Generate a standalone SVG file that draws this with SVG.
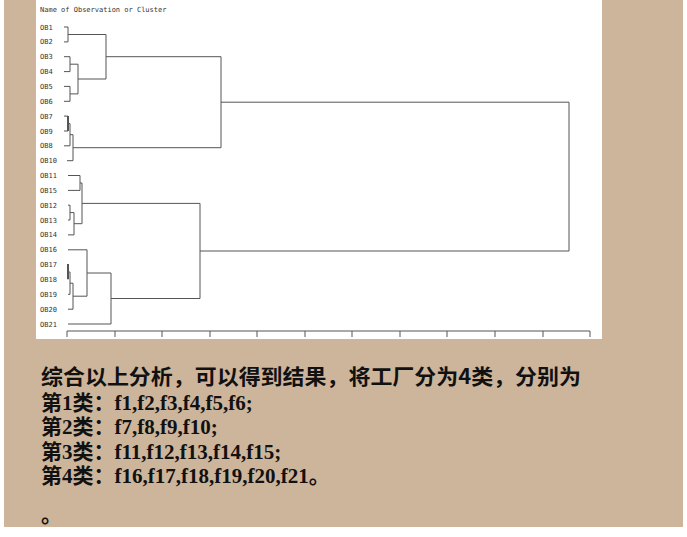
<svg xmlns="http://www.w3.org/2000/svg" width="687" height="537" viewBox="0 0 687 537">
<style>
.lb{font-family:"DejaVu Sans Mono","Liberation Mono",monospace;font-size:7px;fill:#333}
.ln{stroke:#555;stroke-width:1;fill:none}
.t{font-family:"Liberation Serif","Noto Sans CJK SC",serif;font-weight:bold;font-size:21px;fill:#111}
.h{font-family:"Noto Sans CJK SC",sans-serif;font-weight:bold;font-size:21px;fill:#111}
</style>
<rect width="687" height="537" fill="#fff"/>
<rect x="4" y="0" width="679" height="527" fill="#CDB59C"/>
<rect x="36" y="0" width="566" height="339" fill="#fff"/>
<g id="labels">
<text class="lb" x="40" y="12">Name of Observation or Cluster</text>
<text class="lb" x="40" y="29.5">OB1</text>
<text class="lb" x="40" y="44.4">OB2</text>
<text class="lb" x="40" y="59.2">OB3</text>
<text class="lb" x="40" y="74.1">OB4</text>
<text class="lb" x="40" y="88.9">OB5</text>
<text class="lb" x="40" y="103.8">OB6</text>
<text class="lb" x="40" y="118.6">OB7</text>
<text class="lb" x="40" y="133.5">OB9</text>
<text class="lb" x="40" y="148.3">OB8</text>
<text class="lb" x="40" y="163.2">OB10</text>
<text class="lb" x="40" y="178">OB11</text>
<text class="lb" x="40" y="192.9">OB15</text>
<text class="lb" x="40" y="207.7">OB12</text>
<text class="lb" x="40" y="222.5">OB13</text>
<text class="lb" x="40" y="237.4">OB14</text>
<text class="lb" x="40" y="252.3">OB16</text>
<text class="lb" x="40" y="267.1">OB17</text>
<text class="lb" x="40" y="282">OB18</text>
<text class="lb" x="40" y="296.8">OB19</text>
<text class="lb" x="40" y="311.7">OB20</text>
<text class="lb" x="40" y="326.5">OB21</text>
</g>
<g id="connectors" class="ln">
<path d="M64 27H68V41.9H64M68 34.5H106"/>
<path d="M64 56.7H70V71.6H64M64 86.4H70V101.3H64M70 64.2H78V93.9H70M78 79H106M106 34.5V79M106 56.7H221"/>
<path d="M64 116.1H68V131H64M68 123.6H70M64 145.8H70V123.6M70 134.7H73M67 160.7H73V134.7M73 147.7H221M221 56.7V147.7M221 102.2H569"/>
<path d="M68 175.5H80V190.4H68M68 205.2H70V220H68M70 212.6H74M68 234.9H74V212.6M74 223.7H82M80 183H82V223.7M82 203.4H200"/>
<path d="M68 249.8H87M68 264.6H68V279.5M68 272H70M68 294.3H70V272M70 283.2H73M68 309.2H73V283.2M73 296.2H87V249.8M87 273H111M68 324H111V273M111 298.5H200M200 203.4V298.5M200 251H569M569 102.2V251"/>
<path stroke-width="2" d="M68 116V131M68 264V279"/>
</g>
<g id="axis" class="ln">
<path d="M67 331H590M67 331V337M115 331V337M162 331V337M210 331V337M257 331V337M305 331V337M352 331V337M400 331V337M447 331V337M495 331V337M543 331V337M590 331V337"/>
</g>
<g id="text">
<text class="h" x="41" y="384" textLength="540" lengthAdjust="spacingAndGlyphs">综合以上分析，可以得到结果，将工厂分为4类，分别为</text>
<text class="t" x="41" y="410">第1类：f1,f2,f3,f4,f5,f6;</text>
<text class="t" x="41" y="434">第2类：f7,f8,f9,f10;</text>
<text class="t" x="41" y="459">第3类：f11,f12,f13,f14,f15;</text>
<text class="t" x="41" y="483">第4类：f16,f17,f18,f19,f20,f21。</text>
<text class="t" x="41" y="522">。</text>
</g>
</svg>
